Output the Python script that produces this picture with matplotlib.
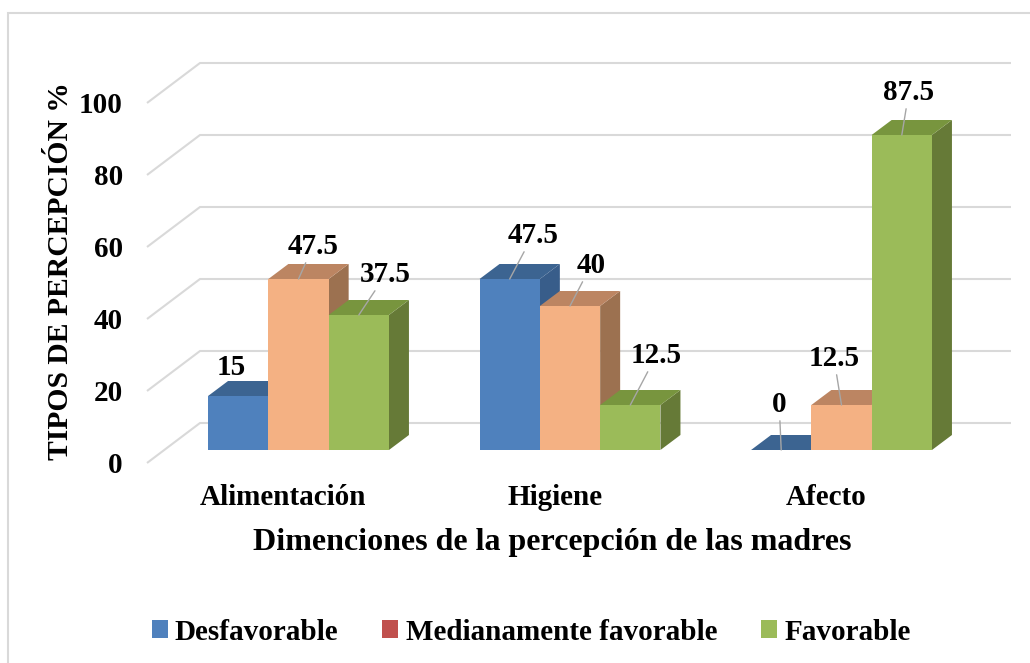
import matplotlib
matplotlib.use("Agg")
import matplotlib.pyplot as plt
from matplotlib.patches import Polygon, Rectangle, Patch

# ---------------- data ----------------
categories = ["Alimentación", "Higiene", "Afecto"]
series_names = ["Desfavorable", "Medianamente favorable", "Favorable"]
desfavorable = [15, 47.5, 0]
medianamente = [47.5, 40, 12.5]
favorable = [37.5, 12.5, 87.5]
y_ticks = [0, 20, 40, 60, 80, 100]
y_title = "TIPOS DE PERCEPCIÓN %"
x_title = "Dimenciones de la percepción de las madres"

# ---------------- styles ----------------
front_cols = ["#4F81BD", "#F4B183", "#9BBB59"]
top_cols = ["#3C6491", "#BC8562", "#78953E"]
side_cols = ["#385D8A", "#9C7150", "#667A37"]
legend_cols = ["#4F81BD", "#C0504D", "#9BBB59"]
grid_col = "#D9D9D9"
FONT = "Liberation Serif"
FS = 21

W, H = 1030, 663
fig = plt.figure(figsize=(W / 100, H / 100), dpi=100)
ax = fig.add_axes([0, 0, 1, 1])

# pixel layout (x: group spacing px, y: px per value unit)
GX0, GSP = 298.5, 271.5      # first group centre, group spacing (px)
BASE, PPV = 450.0, 3.6       # bar base (px from top), px per value unit
BW = 60.3 / GSP              # bar width in x units
DX, DY = 20 / GSP, 15 / PPV  # bar depth offsets

def px2x(px):
    return (px - GX0) / GSP

def dpy(p):
    return p / PPV

ax.set_xlim(px2x(0), px2x(W))
ax.set_ylim(-(H - BASE) / PPV, BASE / PPV)
ax.axis("off")

# ---- gridlines (back wall + floor diagonals) ----
xf, xb, xe = px2x(147), px2x(200), px2x(1011)
front_off, back_off = -dpy(13), dpy(27)
for v in y_ticks:
    ax.plot([xf, xb, xe], [v + front_off, v + back_off, v + back_off],
            color=grid_col, lw=1.5, zorder=1, solid_capstyle="butt")
    ax.text(px2x(123), v + front_off - dpy(10), str(v), ha="right",
            va="baseline", fontsize=FS, fontweight="bold", family=FONT)

# ---- 3D bars ----
series = [desfavorable, medianamente, favorable]
lab_dx = [[-7, 23, -2], [14.5, 21, -7.5], [27, 26, 7]]
lab_up = [[21, 36, 38], [25, 33, 39], [33, 42, 35]]
for gi in range(len(categories)):
    for si, vals in enumerate(series):
        v = vals[gi]
        x0 = gi + (si - 1.5) * BW
        x1 = x0 + BW
        front = Polygon([(x0, 0), (x1, 0), (x1, v), (x0, v)],
                        closed=True, fc=front_cols[si], ec="none", zorder=3)
        top = Polygon([(x0, v), (x1, v), (x1 + DX, v + DY), (x0 + DX, v + DY)],
                      closed=True, fc=top_cols[si], ec="none", zorder=3)
        side = Polygon([(x1, 0), (x1 + DX, DY), (x1 + DX, v + DY), (x1, v)],
                       closed=True, fc=side_cols[si], ec="none", zorder=3)
        for p in (side, front, top):
            ax.add_patch(p)
        arrow = None if (gi == 0 and si == 0) else dict(
            arrowstyle="-", color="#A6A6A6", lw=1.0, shrinkA=0, shrinkB=0)
        ax.annotate(f"{v:g}", xy=(x0 + BW / 2, v),
                    xytext=(lab_dx[si][gi], lab_up[si][gi]),
                    textcoords="offset pixels", ha="center", va="baseline",
                    fontsize=FS, fontweight="bold", family=FONT,
                    arrowprops=arrow, zorder=5)

# ---- category labels ----
for gi, c in enumerate(categories):
    ax.text(gi - 15 / GSP, -dpy(505 - BASE), c, ha="center", va="baseline",
            fontsize=FS, fontweight="bold", family=FONT)

# ---- axis titles ----
fig.text(552 / W, 1 - 550 / H, x_title, ha="center", va="baseline",
         fontsize=23, fontweight="bold", family=FONT)
fig.text(61 / W, 1 - 271 / H, y_title, ha="center", va="center",
         rotation=90, fontsize=21.3, fontweight="bold", family=FONT)

# ---- legend ----
handles = [Patch(facecolor=c, edgecolor="none") for c in legend_cols]
leg = fig.legend(handles, series_names, loc="center",
                 bbox_to_anchor=(531 / W, 1 - 632 / H), ncol=3,
                 frameon=False, handlelength=0.55, handleheight=0.55,
                 handletextpad=0.25, columnspacing=1.5,
                 prop=dict(family=FONT, weight="bold", size=FS))

# ---- outer border ----
fig.patches.append(Rectangle((8 / W, -0.1), 1.2, 1 - 13 / H + 0.1,
                             transform=fig.transFigure, fill=False,
                             ec=grid_col, lw=1.5))

fig.savefig("out.png", dpi=100)
